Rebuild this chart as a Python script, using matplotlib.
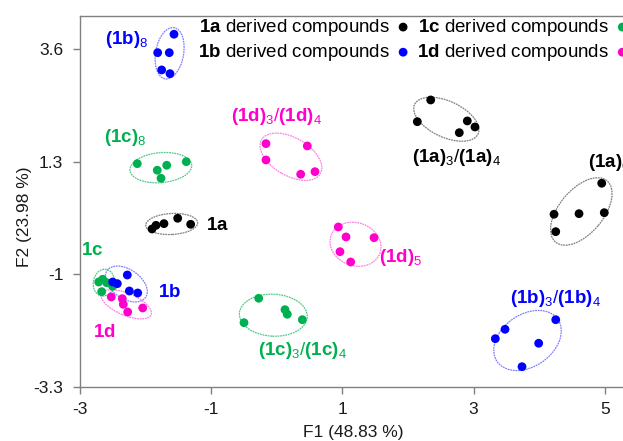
import matplotlib
matplotlib.use('Agg')
import matplotlib.pyplot as plt
from matplotlib.patches import Ellipse
from matplotlib.transforms import ScaledTranslation

plt.rcParams['font.family'] = ['Liberation Sans', 'DejaVu Sans']
plt.rcParams['mathtext.fontset'] = 'custom'
plt.rcParams['mathtext.rm'] = 'Liberation Sans'
plt.rcParams['mathtext.bf'] = 'Liberation Sans:bold'
plt.rcParams['mathtext.it'] = 'Liberation Sans:italic'

# ---------------- data ----------------
# 1a derived compounds: 1a, (1a)3/(1a)4, (1a)6
a_F1 = [-1.902, -1.841, -1.720, -1.511, -1.313,
        2.346, 2.142, 2.904, 3.021, 2.782,
        4.953, 4.226, 4.607, 4.992, 4.252]
a_F2 = [-0.075, 0.000, 0.034, 0.144, 0.021,
        2.563, 2.119, 2.134, 2.011, 1.894,
        0.860, 0.226, 0.238, 0.258, -0.130]
# 1b derived compounds: 1b, (1b)3/(1b)4, (1b)8
b_F1 = [-2.502, -2.431, -2.279, -2.248, -2.120,
        3.479, 3.331, 4.252, 3.992, 3.738,
        -1.567, -1.816, -1.639, -1.755, -1.628]
b_F2 = [-1.159, -1.193, -1.016, -1.343, -1.384,
        -2.126, -2.318, -1.930, -2.412, -2.891,
        3.907, 3.530, 3.530, 3.177, 3.101]
# 1c derived compounds: 1c, (1c)3/(1c)4, (1c)8
c_F1 = [-2.715, -2.654, -2.593, -2.502, -2.669,
        -0.276, 0.125, 0.160, -0.500, 0.389,
        -2.127, -1.822, -1.678, -1.765, -1.380]
c_F2 = [-1.159, -1.103, -1.173, -1.247, -1.357,
        -1.492, -1.725, -1.819, -1.991, -1.930,
        1.261, 1.126, 1.228, 0.962, 1.301]
# 1d derived compounds: 1d, (1d)3/(1d)4, (1d)5
d_F1 = [-2.523, -2.355, -2.340, -2.273, -2.044,
        -0.165, -0.165, 0.465, 0.364, 0.582,
        0.938, 1.055, 1.482, 0.963, 1.127]
d_F2 = [-1.465, -1.500, -1.615, -1.772, -1.690,
        1.670, 1.336, 1.623, 1.044, 1.097,
        -0.034, -0.238, -0.253, -0.539, -0.750]

legend_labels = [r'$\mathbf{1a}$ derived compounds', r'$\mathbf{1b}$ derived compounds',
                 r'$\mathbf{1c}$ derived compounds', r'$\mathbf{1d}$ derived compounds']

# confidence ellipses: group, centre F1, centre F2
ell_group = ['a', 'a', 'a', 'b', 'b', 'b', 'c', 'c', 'c', 'd', 'd', 'd']
ell_F1 = [-1.602, 2.584, 4.642, -2.294, 3.822, -1.634, -2.637, -0.053, -1.768, -2.296, 0.216, 1.200]
ell_F2 = [0.027, 2.169, 0.283, -1.200, -2.355, 3.518, -1.173, -1.838, 1.179, -1.615, 1.402, -0.388]

# cluster labels
lab_text = [r'$\mathbf{1a}$', r'$\mathbf{(1a)}_\mathrm{3}\mathrm{/}\mathbf{(1a)}_\mathrm{4}$', r'$\mathbf{(1a)}_\mathrm{6}$',
            r'$\mathbf{1b}$', r'$\mathbf{(1b)}_\mathrm{3}\mathrm{/}\mathbf{(1b)}_\mathrm{4}$', r'$\mathbf{(1b)}_\mathrm{8}$',
            r'$\mathbf{1c}$', r'$\mathbf{(1c)}_\mathrm{3}\mathrm{/}\mathbf{(1c)}_\mathrm{4}$', r'$\mathbf{(1c)}_\mathrm{8}$',
            r'$\mathbf{1d}$', r'$\mathbf{(1d)}_\mathrm{3}\mathrm{/}\mathbf{(1d)}_\mathrm{4}$', r'$\mathbf{(1d)}_\mathrm{5}$']
lab_group = ['a', 'a', 'a', 'b', 'b', 'b', 'c', 'c', 'c', 'd', 'd', 'd']

xticks = [-3, -1, 1, 3, 5]
yticks = [-3.3, -1, 1.3, 3.6]

# ---------------- styles / layout ----------------
colors = {'a': '#000000', 'b': '#0000FF', 'c': '#00B050', 'd': '#FF00CC'}
ell_colors = {'a': '#808080', 'b': '#8080FF', 'c': '#55C98A', 'd': '#FF80E6'}
ell_w = [52, 70, 80, 47, 74, 52, 27, 68, 62, 54, 68, 52]
ell_h = [21, 36, 44, 29, 52, 28, 21, 42, 30, 22, 38, 43]
ell_ang = [3, -25, 50, -35, 35, 80, 80, -3, 5, -23, -30, -20]
lab_x = [-0.912, 2.739, 4.744, -1.633, 4.248, -2.288, -2.822, 0.395, -2.314, -2.623, -0.012, 1.893]
lab_y = [-0.013, 1.377, 1.275, -1.377, -1.506, 3.79, -0.525, -2.570, 1.786, -2.195, 2.216, -0.668]
lab_ha = ['center'] * 12
lab_ha[2] = 'left'

W, H = 623, 441
fig = plt.figure(figsize=(W / 100, H / 100), dpi=100)
ax = fig.add_axes([80 / W, (H - 386.7) / H, 9 * 65.6 / W, 371.2 / H])
ax.set_xlim(-3, 6)
ax.set_ylim(-3.3, 4.29)

for g, cx, cy, w, h, an in zip(ell_group, ell_F1, ell_F2, ell_w, ell_h, ell_ang):
    tr = fig.dpi_scale_trans + ScaledTranslation(cx, cy, ax.transData)
    e = Ellipse((0, 0), w / 100, h / 100, angle=an, transform=tr, fill=False,
                edgecolor=ell_colors[g], lw=0.9, linestyle=(0, (1.5, 0.6)))
    ax.add_patch(e)

handles = []
for g, xs, ys in [('a', a_F1, a_F2), ('c', c_F1, c_F2), ('b', b_F1, b_F2), ('d', d_F1, d_F2)]:
    h_ = ax.scatter(xs, ys, s=40, color=colors[g], edgecolors='none', zorder=3)
    handles.append((g, h_))
hd = dict(handles)

for t, g, x, y, ha in zip(lab_text, lab_group, lab_x, lab_y, lab_ha):
    ax.text(x, y, t, color=colors[g], fontsize=13.5, ha=ha, va='center')

leg = ax.legend([hd['a'], hd['b'], hd['c'], hd['d']], legend_labels, ncol=2,
                markerfirst=False, frameon=False, fontsize=13.5,
                handlelength=0.6, handletextpad=0.4, columnspacing=0.45,
                labelspacing=0.22, borderpad=0, borderaxespad=0,
                loc='upper left', bbox_to_anchor=(198 / W, 1 - 17 / H),
                bbox_transform=fig.transFigure, scatterpoints=1)

ax.set_xticks(xticks)
ax.set_yticks(yticks)
ax.set_xticklabels([str(v) for v in xticks])
ax.set_yticklabels([str(v) for v in yticks])
for s in ['left', 'bottom', 'top']:
    ax.spines[s].set_color('#808080')
    ax.spines[s].set_linewidth(1.0)
ax.spines['right'].set_visible(False)
ax.tick_params(direction='out', length=5, width=1, color='#808080',
               labelsize=12.5, labelcolor='#1a1a1a')
ax.tick_params(axis='y', pad=7)
ax.tick_params(axis='x', pad=6)

fig.text(353 / W, 1 - 433 / H, 'F1 (48.83 %)', fontsize=12.5, ha='center', va='center', color='#1a1a1a')
fig.text(25 / W, 1 - 217 / H, 'F2 (23.98 %)', fontsize=12.5, ha='center', va='center',
         rotation=90, color='#1a1a1a')

fig.savefig('out.png', dpi=100)
